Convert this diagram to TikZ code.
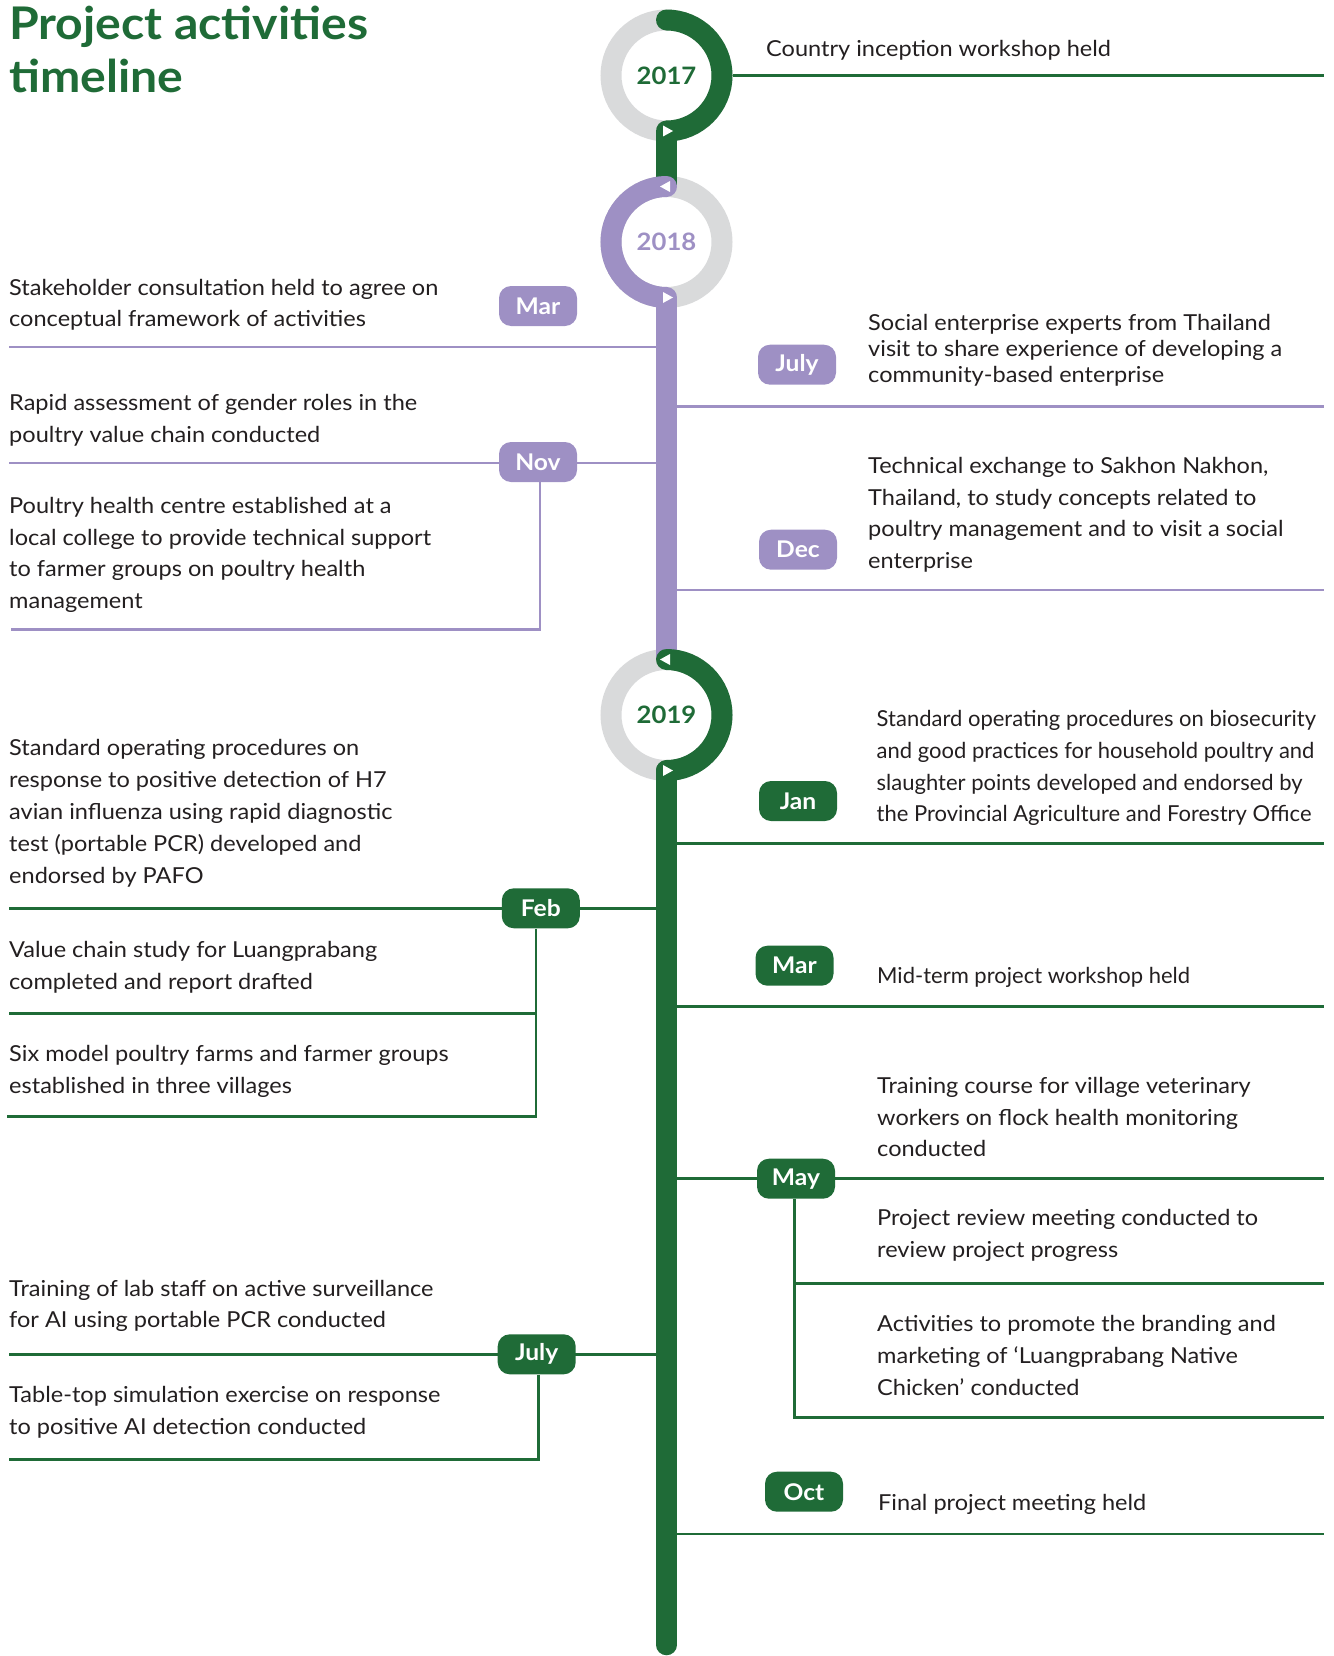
\documentclass[tikz,border=0pt]{standalone}
\usepackage{fontspec}
\setmainfont{Lato}[FakeStretch=1.07]
\newfontfamily\narrowlato{Lato}
\usepackage{xcolor}
\definecolor{tlgreen}{HTML}{1F6B37}
\definecolor{tlpurple}{HTML}{9E90C4}
\definecolor{tlgrey}{HTML}{D9DADB}
\definecolor{tltext}{HTML}{231F20}

\begin{document}
\begin{tikzpicture}[x=1pt,y=-1pt]
        \tikzset{pill/.style={fill=#1,rounded corners=12pt,minimum width=78pt,minimum height=40pt,
                inner sep=0pt,text=white,font=\fontsize{23}{23}\selectfont\bfseries},
            entry/.style={anchor=base west,align=left,inner sep=0pt,text=tltext,
                font=\fontsize{22}{31.7}\selectfont},
            title/.style={anchor=base west,align=left,inner sep=0pt,text=tlgreen,
                font=\fontsize{45}{53.4}\selectfont\bfseries},
            year/.style={circle,minimum size=111pt,inner sep=0pt,outer sep=0pt,text=#1,
                font=\fontsize{24}{24}\selectfont\bfseries},
            ring/.style={draw=tlgrey,line width=21pt},
            spine/.style={draw=#1,line width=20.5pt},
            yeararc/.style={draw=#1,line width=21pt,line cap=round},
            lead/.style={draw=#1,line width=2.6pt}}
        \useasboundingbox (0,0) rectangle (1333,1656);
        % text nodes sit on the baseline of their last line
        \node[title] (head) at (9,92.7) {Project activities\\timeline};
        % years
        \node[year=tlgreen] (y17) at (666.5,75.5) {2017};
        \node[year=tlpurple] (y18) at (666.5,242) {2018};
        \node[year=tlgreen] (y19) at (666.5,715) {2019};
        \coordinate (tail) at (666.5,1645);
        \foreach \y in {y17,y18,y19}
            \draw[ring] (\y) circle[radius=55.5pt];
        \draw[spine=tlgreen] (y17.south) -- (y18.north);
        \draw[spine=tlpurple] (y18.south) -- (y19.north);
        \draw[spine=tlgreen,line cap=round] (y19.south) -- (tail);
        \draw[yeararc=tlgreen] (y17.north) arc[start angle=90,end angle=-90,radius=55.5pt];
        \draw[yeararc=tlpurple] (y18.north) arc[start angle=90,end angle=270,radius=55.5pt];
        \draw[yeararc=tlgreen] (y19.north) arc[start angle=90,end angle=-90,radius=55.5pt];
        \foreach \p in {y17.south,y18.south,y19.south}
            \fill[white] ([xshift=-3.5pt]\p) -- ++(0pt,5.5pt) -- ++(10pt,-5.5pt) -- ++(-10pt,-5.5pt) -- cycle;
        \foreach \p in {y18.north,y19.north}
            \fill[white] ([xshift=3.5pt]\p) -- ++(0pt,5.5pt) -- ++(-10pt,-5.5pt) -- ++(10pt,-5.5pt) -- cycle;

        % 2017
        \coordinate (r17) at (1324,75.5);
        \draw[lead=tlgreen] ([xshift=10.5pt]y17.east) -- (r17);
        \node[entry] (t17) at (766,57) {Country inception workshop held};

        % 2018
        \coordinate (mar18a) at (9,347);    \coordinate (mar18b) at (656,347);
        \coordinate (jul18a) at (677,406.5); \coordinate (jul18b) at (1324,406.5);
        \coordinate (nov18a) at (9,463);    \coordinate (nov18b) at (656,463);
        \coordinate (nov18c) at (540,629.5); \coordinate (nov18d) at (11,629.5);
        \coordinate (dec18a) at (677,590);  \coordinate (dec18b) at (1324,590);
        \foreach \a/\b in {mar18a/mar18b,jul18a/jul18b,nov18a/nov18b,dec18a/dec18b}
            \draw[lead=tlpurple] (\a) -- (\b);
        \node[pill=tlpurple] (mar18) at (538,306) {Mar};
        \node[pill=tlpurple] (jul18) at (797,364.7) {July};
        \node[pill=tlpurple] (nov18) at (538,462) {Nov};
        \node[pill=tlpurple] (dec18) at (798,549.7) {Dec};
        \draw[lead=tlpurple] (nov18.south -| nov18c) -- (nov18c) -- (nov18d);
        \node[entry] (t18a) at (9,326.7) {Stakeholder consultation held to agree on\\conceptual framework of activities};
        \node[entry,font=\fontsize{22}{26}\selectfont] (t18b) at (868,382.7) {Social enterprise experts from Thailand\\visit to share experience of developing a\\community-based enterprise};
        \node[entry] (t18c) at (9,442.4) {Rapid assessment of gender roles in the\\poultry value chain conducted};
        \node[entry] (t18d) at (9,608.4) {Poultry health centre established at a\\local college to provide technical support\\to farmer groups on poultry health\\management};
        \node[entry] (t18e) at (868,568.4) {Technical exchange to Sakhon Nakhon,\\Thailand, to study concepts related to\\poultry management and to visit a social\\enterprise};

        % 2019
        \coordinate (jan19a) at (677,843.3);  \coordinate (jan19b) at (1324,843.3);
        \coordinate (feb19a) at (9,908.3);    \coordinate (feb19b) at (656,908.3);
        \coordinate (mar19a) at (677,1006.7); \coordinate (mar19b) at (1324,1006.7);
        \coordinate (may19a) at (677,1178.3); \coordinate (may19b) at (1324,1178.3);
        \coordinate (jul19a) at (9,1354.3);   \coordinate (jul19b) at (656,1354.3);
        \coordinate (oct19a) at (677,1534);   \coordinate (oct19b) at (1324,1534);
        \foreach \a/\b in {jan19a/jan19b,feb19a/feb19b,mar19a/mar19b,may19a/may19b,jul19a/jul19b,oct19a/oct19b}
            \draw[lead=tlgreen] (\a) -- (\b);
        \node[pill=tlgreen] (jan19) at (798,801) {Jan};
        \node[pill=tlgreen] (feb19) at (540.8,908.3) {Feb};
        \node[pill=tlgreen] (mar19) at (794.5,965.7) {Mar};
        \node[pill=tlgreen] (may19) at (796,1178.7) {May};
        \node[pill=tlgreen] (jul19) at (536.7,1354.3) {July};
        \node[pill=tlgreen] (oct19) at (804,1491.7) {Oct};
        % branches
        \coordinate (feb19c) at (536,1013.3);  \coordinate (feb19d) at (9,1013.3);
        \coordinate (feb19e) at (536,1116.7);  \coordinate (feb19f) at (6.5,1116.7);
        \draw[lead=tlgreen] (feb19.south -| feb19e) -- (feb19e) -- (feb19f);
        \draw[lead=tlgreen] (feb19c) -- (feb19d);
        \coordinate (may19c) at (794.3,1283.3); \coordinate (may19d) at (1324,1283.3);
        \coordinate (may19e) at (794.3,1417.7); \coordinate (may19f) at (1324,1417.7);
        \draw[lead=tlgreen] (may19.south -| may19e) -- (may19e) -- (may19f);
        \draw[lead=tlgreen] (may19c) -- (may19d);
        \coordinate (jul19c) at (538.6,1459.3); \coordinate (jul19d) at (9,1459.3);
        \draw[lead=tlgreen] (jul19.south -| jul19c) -- (jul19c) -- (jul19d);
        \node[entry,font=\fontsize{22}{31.7}\selectfont\narrowlato] (t19a) at (876.5,821.7) {Standard operating procedures on biosecurity\\and good practices for household poultry and\\slaughter points developed and endorsed by\\the Provincial Agriculture and Forestry Office};
        \node[entry,font=\fontsize{22}{32}\selectfont] (t19b) at (9,883) {Standard operating procedures on\\response to positive detection of H7\\avian influenza using rapid diagnostic\\test (portable PCR) developed and\\endorsed by PAFO};
        \node[entry] (t19c) at (9,989) {Value chain study for Luangprabang\\completed and report drafted};
        \node[entry] (t19d) at (9,1093.4) {Six model poultry farms and farmer groups\\established in three villages};
        \node[entry,font=\fontsize{22}{31.7}\selectfont\narrowlato] (t19e) at (877,983.3) {Mid-term project workshop held};
        \node[entry] (t19f) at (877,1156.7) {Training course for village veterinary\\workers on flock health monitoring\\conducted};
        \node[entry] (t19g) at (877,1257.4) {Project review meeting conducted to\\review project progress};
        \node[entry] (t19h) at (877,1395.1) {Activities to promote the branding and\\marketing of ‘Luangprabang Native\\Chicken’ conducted};
        \node[entry] (t19i) at (9,1327.7) {Training of lab staff on active surveillance\\for AI using portable PCR conducted};
        \node[entry] (t19j) at (9,1434.4) {Table-top simulation exercise on response\\to positive AI detection conducted};
        \node[entry] (t19k) at (878,1510.7) {Final project meeting held};
\end{tikzpicture}
\end{document}
